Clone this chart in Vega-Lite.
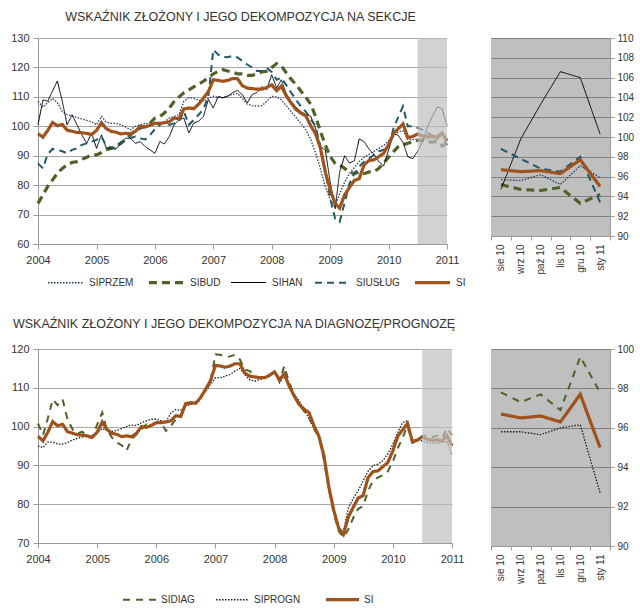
{
  "$schema": "https://vega.github.io/schema/vega-lite/v6.json",
  "padding": {"top": 10, "left": 10, "right": 4, "bottom": 4},
  "background": "white",
  "config": {
    "font": "Liberation Sans",
    "view": {"stroke": null},
    "axis": {"labelFont": "Liberation Sans", "labelFontSize": 11, "labelColor": "#333333", "domainColor": "#9a9a9a", "tickColor": "#9a9a9a", "gridColor": "#a6a6a6", "tickSize": 5, "labelPadding": 3},
    "title": {"font": "Liberation Sans", "fontSize": 12.5, "fontWeight": "normal", "color": "#333333"},
    "legend": {"labelFont": "Liberation Sans", "labelFontSize": 10, "labelColor": "#333333", "gridAlign": "each"}
  },
  "datasets": {
    "main": [
      {"d":"2004-01-01","SIPRZEM":108.5,"SIBUD":73.8,"SIHAN":100.5,"SIUSŁUG":87.4,"SI":97.5,"SIDIAG":100.8,"SIPROGN":95.0},
      {"d":"2004-02-01","SIPRZEM":106.5,"SIBUD":76.7,"SIHAN":109.0,"SIUSŁUG":85.7,"SI":96.3,"SIDIAG":97.8,"SIPROGN":94.6},
      {"d":"2004-03-01","SIPRZEM":108.0,"SIBUD":79.5,"SIHAN":108.5,"SIUSŁUG":90.5,"SI":98.5,"SIDIAG":102.0,"SIPROGN":96.0},
      {"d":"2004-04-01","SIPRZEM":109.5,"SIBUD":81.8,"SIHAN":112.0,"SIUSŁUG":92.3,"SI":101.3,"SIDIAG":107.0,"SIPROGN":96.0},
      {"d":"2004-05-01","SIPRZEM":108.0,"SIBUD":84.0,"SIHAN":115.4,"SIUSŁUG":92.0,"SI":100.2,"SIDIAG":105.5,"SIPROGN":95.5},
      {"d":"2004-06-01","SIPRZEM":105.0,"SIBUD":85.7,"SIHAN":108.5,"SIUSŁUG":91.5,"SI":100.6,"SIDIAG":107.0,"SIPROGN":95.5},
      {"d":"2004-07-01","SIPRZEM":104.0,"SIBUD":86.9,"SIHAN":100.5,"SIUSŁUG":90.8,"SI":98.7,"SIDIAG":101.9,"SIPROGN":95.9},
      {"d":"2004-08-01","SIPRZEM":103.5,"SIBUD":87.7,"SIHAN":103.9,"SIUSŁUG":92.0,"SI":98.3,"SIDIAG":99.3,"SIPROGN":96.5},
      {"d":"2004-09-01","SIPRZEM":103.0,"SIBUD":88.0,"SIHAN":100.5,"SIUSŁUG":92.5,"SI":97.9,"SIDIAG":98.2,"SIPROGN":97.0},
      {"d":"2004-10-01","SIPRZEM":102.5,"SIBUD":88.8,"SIHAN":97.1,"SIUSŁUG":93.7,"SI":97.8,"SIDIAG":98.7,"SIPROGN":97.3},
      {"d":"2004-11-01","SIPRZEM":102.0,"SIBUD":89.5,"SIHAN":94.2,"SIUSŁUG":94.2,"SI":97.6,"SIDIAG":97.2,"SIPROGN":97.5},
      {"d":"2004-12-01","SIPRZEM":101.5,"SIBUD":90.3,"SIHAN":97.7,"SIUSŁUG":94.8,"SI":97.2,"SIDIAG":97.3,"SIPROGN":97.6},
      {"d":"2005-01-01","SIPRZEM":100.5,"SIBUD":90.3,"SIHAN":92.5,"SIUSŁUG":95.4,"SI":98.6,"SIDIAG":100.6,"SIPROGN":98.5},
      {"d":"2005-02-01","SIPRZEM":103.4,"SIBUD":91.1,"SIHAN":97.1,"SIUSŁUG":96.5,"SI":101.2,"SIDIAG":103.6,"SIPROGN":99.5},
      {"d":"2005-03-01","SIPRZEM":101.5,"SIBUD":92.0,"SIHAN":92.8,"SIUSŁUG":93.5,"SI":99.3,"SIDIAG":99.3,"SIPROGN":99.0},
      {"d":"2005-04-01","SIPRZEM":101.0,"SIBUD":92.5,"SIHAN":92.5,"SIUSŁUG":92.8,"SI":98.3,"SIDIAG":97.2,"SIPROGN":98.8},
      {"d":"2005-05-01","SIPRZEM":101.0,"SIBUD":93.1,"SIHAN":92.2,"SIUSŁUG":92.5,"SI":98.0,"SIDIAG":95.9,"SIPROGN":99.0},
      {"d":"2005-06-01","SIPRZEM":100.5,"SIBUD":94.2,"SIHAN":94.2,"SIUSŁUG":94.5,"SI":97.4,"SIDIAG":95.2,"SIPROGN":99.5},
      {"d":"2005-07-01","SIPRZEM":99.8,"SIBUD":95.4,"SIHAN":95.9,"SIUSŁUG":95.5,"SI":97.6,"SIDIAG":93.8,"SIPROGN":100.0},
      {"d":"2005-08-01","SIPRZEM":98.8,"SIBUD":97.1,"SIHAN":96.0,"SIUSŁUG":96.0,"SI":97.4,"SIDIAG":96.8,"SIPROGN":100.4},
      {"d":"2005-09-01","SIPRZEM":100.0,"SIBUD":98.6,"SIHAN":94.2,"SIUSŁUG":96.5,"SI":98.3,"SIDIAG":98.0,"SIPROGN":100.3},
      {"d":"2005-10-01","SIPRZEM":100.5,"SIBUD":99.4,"SIHAN":94.8,"SIUSŁUG":95.9,"SI":100.0,"SIDIAG":99.3,"SIPROGN":101.0},
      {"d":"2005-11-01","SIPRZEM":101.0,"SIBUD":99.9,"SIHAN":93.1,"SIUSŁUG":95.5,"SI":99.8,"SIDIAG":100.6,"SIPROGN":101.5},
      {"d":"2005-12-01","SIPRZEM":100.8,"SIBUD":101.1,"SIHAN":92.0,"SIUSŁUG":97.0,"SI":100.3,"SIDIAG":100.6,"SIPROGN":101.9},
      {"d":"2006-01-01","SIPRZEM":100.5,"SIBUD":102.8,"SIHAN":90.8,"SIUSŁUG":99.0,"SI":101.0,"SIDIAG":101.0,"SIPROGN":101.9},
      {"d":"2006-02-01","SIPRZEM":101.0,"SIBUD":103.3,"SIHAN":94.8,"SIUSŁUG":100.5,"SI":101.0,"SIDIAG":101.0,"SIPROGN":101.5},
      {"d":"2006-03-01","SIPRZEM":101.5,"SIBUD":104.5,"SIHAN":94.0,"SIUSŁUG":101.5,"SI":101.2,"SIDIAG":98.9,"SIPROGN":101.2},
      {"d":"2006-04-01","SIPRZEM":102.8,"SIBUD":106.2,"SIHAN":96.5,"SIUSŁUG":100.5,"SI":101.5,"SIDIAG":100.2,"SIPROGN":103.5},
      {"d":"2006-05-01","SIPRZEM":103.4,"SIBUD":108.4,"SIHAN":100.5,"SIUSŁUG":101.0,"SI":102.8,"SIDIAG":101.9,"SIPROGN":104.4},
      {"d":"2006-06-01","SIPRZEM":104.0,"SIBUD":110.0,"SIHAN":102.2,"SIUSŁUG":101.7,"SI":102.6,"SIDIAG":102.9,"SIPROGN":104.2},
      {"d":"2006-07-01","SIPRZEM":108.5,"SIBUD":111.4,"SIHAN":102.8,"SIUSŁUG":105.0,"SI":105.9,"SIDIAG":105.7,"SIPROGN":105.3},
      {"d":"2006-08-01","SIPRZEM":109.7,"SIBUD":112.4,"SIHAN":97.7,"SIUSŁUG":100.5,"SI":106.2,"SIDIAG":106.0,"SIPROGN":105.7},
      {"d":"2006-09-01","SIPRZEM":109.5,"SIBUD":113.4,"SIHAN":101.1,"SIUSŁUG":102.2,"SI":106.0,"SIDIAG":105.7,"SIPROGN":106.2},
      {"d":"2006-10-01","SIPRZEM":108.8,"SIBUD":114.3,"SIHAN":101.7,"SIUSŁUG":103.9,"SI":107.5,"SIDIAG":107.4,"SIPROGN":107.7},
      {"d":"2006-11-01","SIPRZEM":108.5,"SIBUD":115.3,"SIHAN":103.4,"SIUSŁUG":106.0,"SI":109.6,"SIDIAG":109.6,"SIPROGN":109.1},
      {"d":"2006-12-01","SIPRZEM":109.5,"SIBUD":116.6,"SIHAN":109.1,"SIUSŁUG":110.0,"SI":111.8,"SIDIAG":111.7,"SIPROGN":110.8},
      {"d":"2007-01-01","SIPRZEM":110.2,"SIBUD":117.8,"SIHAN":106.2,"SIUSŁUG":126.0,"SI":115.8,"SIDIAG":118.6,"SIPROGN":112.6},
      {"d":"2007-02-01","SIPRZEM":109.8,"SIBUD":118.7,"SIHAN":110.2,"SIUSŁUG":124.3,"SI":115.6,"SIDIAG":118.5,"SIPROGN":112.6},
      {"d":"2007-03-01","SIPRZEM":109.7,"SIBUD":119.2,"SIHAN":109.7,"SIUSŁUG":123.6,"SI":115.3,"SIDIAG":117.9,"SIPROGN":113.0},
      {"d":"2007-04-01","SIPRZEM":110.3,"SIBUD":118.8,"SIHAN":110.2,"SIUSŁUG":123.5,"SI":115.6,"SIDIAG":118.1,"SIPROGN":113.4},
      {"d":"2007-05-01","SIPRZEM":110.8,"SIBUD":118.4,"SIHAN":111.4,"SIUSŁUG":123.9,"SI":116.2,"SIDIAG":118.5,"SIPROGN":114.3},
      {"d":"2007-06-01","SIPRZEM":111.2,"SIBUD":117.8,"SIHAN":112.2,"SIUSŁUG":123.4,"SI":116.2,"SIDIAG":117.3,"SIPROGN":115.0},
      {"d":"2007-07-01","SIPRZEM":109.5,"SIBUD":117.8,"SIHAN":110.8,"SIUSŁUG":122.2,"SI":113.8,"SIDIAG":114.7,"SIPROGN":113.4},
      {"d":"2007-08-01","SIPRZEM":107.5,"SIBUD":117.3,"SIHAN":107.9,"SIUSŁUG":121.0,"SI":113.0,"SIDIAG":114.3,"SIPROGN":112.1},
      {"d":"2007-09-01","SIPRZEM":107.0,"SIBUD":117.3,"SIHAN":110.8,"SIUSŁUG":120.0,"SI":112.8,"SIDIAG":113.0,"SIPROGN":111.7},
      {"d":"2007-10-01","SIPRZEM":106.8,"SIBUD":117.8,"SIHAN":111.5,"SIUSŁUG":118.8,"SI":112.6,"SIDIAG":112.6,"SIPROGN":112.1},
      {"d":"2007-11-01","SIPRZEM":107.0,"SIBUD":118.5,"SIHAN":113.5,"SIUSŁUG":118.8,"SI":112.6,"SIDIAG":112.7,"SIPROGN":112.6},
      {"d":"2007-12-01","SIPRZEM":108.5,"SIBUD":118.7,"SIHAN":112.5,"SIUSŁUG":119.8,"SI":113.2,"SIDIAG":113.4,"SIPROGN":113.2},
      {"d":"2008-01-01","SIPRZEM":110.2,"SIBUD":120.0,"SIHAN":117.5,"SIUSŁUG":118.5,"SI":114.1,"SIDIAG":114.1,"SIPROGN":114.1},
      {"d":"2008-02-01","SIPRZEM":110.0,"SIBUD":121.3,"SIHAN":113.0,"SIUSŁUG":115.8,"SI":112.1,"SIDIAG":111.7,"SIPROGN":111.3},
      {"d":"2008-03-01","SIPRZEM":109.0,"SIBUD":120.5,"SIHAN":115.8,"SIUSŁUG":116.5,"SI":113.6,"SIDIAG":115.6,"SIPROGN":113.0},
      {"d":"2008-04-01","SIPRZEM":107.0,"SIBUD":118.2,"SIHAN":111.0,"SIUSŁUG":114.0,"SI":110.4,"SIDIAG":111.3,"SIPROGN":110.4},
      {"d":"2008-05-01","SIPRZEM":105.0,"SIBUD":116.0,"SIHAN":108.5,"SIUSŁUG":111.5,"SI":107.9,"SIDIAG":108.3,"SIPROGN":108.3},
      {"d":"2008-06-01","SIPRZEM":103.0,"SIBUD":114.2,"SIHAN":106.5,"SIUSŁUG":109.0,"SI":105.7,"SIDIAG":105.7,"SIPROGN":106.6},
      {"d":"2008-07-01","SIPRZEM":101.0,"SIBUD":112.0,"SIHAN":105.0,"SIUSŁUG":106.8,"SI":104.5,"SIDIAG":104.0,"SIPROGN":104.5},
      {"d":"2008-08-01","SIPRZEM":98.8,"SIBUD":110.0,"SIHAN":104.0,"SIUSŁUG":105.0,"SI":103.6,"SIDIAG":102.7,"SIPROGN":102.0},
      {"d":"2008-09-01","SIPRZEM":95.5,"SIBUD":107.5,"SIHAN":103.4,"SIUSŁUG":102.5,"SI":100.2,"SIDIAG":99.3,"SIPROGN":99.5},
      {"d":"2008-10-01","SIPRZEM":91.0,"SIBUD":103.4,"SIHAN":99.4,"SIUSŁUG":100.0,"SI":97.5,"SIDIAG":97.5,"SIPROGN":97.5},
      {"d":"2008-11-01","SIPRZEM":85.5,"SIBUD":98.2,"SIHAN":93.0,"SIUSŁUG":93.0,"SI":92.5,"SIDIAG":91.5,"SIPROGN":91.5},
      {"d":"2008-12-01","SIPRZEM":79.5,"SIBUD":93.7,"SIHAN":92.0,"SIUSŁUG":85.0,"SI":84.5,"SIDIAG":84.0,"SIPROGN":84.5},
      {"d":"2009-01-01","SIPRZEM":75.0,"SIBUD":89.7,"SIHAN":81.0,"SIUSŁUG":75.5,"SI":78.4,"SIDIAG":77.5,"SIPROGN":78.0},
      {"d":"2009-02-01","SIPRZEM":72.7,"SIBUD":87.4,"SIHAN":72.0,"SIUSŁUG":68.5,"SI":73.7,"SIDIAG":73.0,"SIPROGN":74.0},
      {"d":"2009-03-01","SIPRZEM":77.0,"SIBUD":86.8,"SIHAN":84.5,"SIUSŁUG":67.5,"SI":72.2,"SIDIAG":71.5,"SIPROGN":73.0},
      {"d":"2009-04-01","SIPRZEM":81.0,"SIBUD":85.7,"SIHAN":90.0,"SIUSŁUG":74.0,"SI":76.7,"SIDIAG":73.5,"SIPROGN":79.0},
      {"d":"2009-05-01","SIPRZEM":84.0,"SIBUD":84.5,"SIHAN":87.5,"SIUSŁUG":80.5,"SI":79.2,"SIDIAG":76.5,"SIPROGN":81.5},
      {"d":"2009-06-01","SIPRZEM":86.0,"SIBUD":83.9,"SIHAN":88.3,"SIUSŁUG":84.0,"SI":81.6,"SIDIAG":78.8,"SIPROGN":83.5},
      {"d":"2009-07-01","SIPRZEM":88.0,"SIBUD":84.5,"SIHAN":95.7,"SIUSŁUG":86.3,"SI":82.2,"SIDIAG":79.5,"SIPROGN":86.0},
      {"d":"2009-08-01","SIPRZEM":89.5,"SIBUD":83.9,"SIHAN":94.8,"SIUSŁUG":88.0,"SI":86.9,"SIDIAG":83.5,"SIPROGN":88.5},
      {"d":"2009-09-01","SIPRZEM":90.5,"SIBUD":84.5,"SIHAN":92.2,"SIUSŁUG":89.0,"SI":88.4,"SIDIAG":86.1,"SIPROGN":90.0},
      {"d":"2009-10-01","SIPRZEM":91.5,"SIBUD":84.5,"SIHAN":90.5,"SIUSŁUG":90.3,"SI":88.6,"SIDIAG":86.9,"SIPROGN":90.3},
      {"d":"2009-11-01","SIPRZEM":92.5,"SIBUD":85.7,"SIHAN":88.0,"SIUSŁUG":91.5,"SI":89.7,"SIDIAG":87.5,"SIPROGN":91.3},
      {"d":"2009-12-01","SIPRZEM":93.5,"SIBUD":87.5,"SIHAN":86.5,"SIUSŁUG":92.0,"SI":90.8,"SIDIAG":88.5,"SIPROGN":93.0},
      {"d":"2010-01-01","SIPRZEM":95.0,"SIBUD":89.5,"SIHAN":92.0,"SIUSŁUG":93.0,"SI":93.8,"SIDIAG":91.0,"SIPROGN":95.5},
      {"d":"2010-02-01","SIPRZEM":96.5,"SIBUD":91.4,"SIHAN":97.5,"SIUSŁUG":99.4,"SI":97.6,"SIDIAG":94.5,"SIPROGN":98.5},
      {"d":"2010-03-01","SIPRZEM":98.0,"SIBUD":93.0,"SIHAN":97.0,"SIUSŁUG":103.0,"SI":99.1,"SIDIAG":97.0,"SIPROGN":101.0},
      {"d":"2010-04-01","SIPRZEM":98.5,"SIBUD":93.7,"SIHAN":94.5,"SIUSŁUG":106.8,"SI":100.8,"SIDIAG":100.3,"SIPROGN":101.5},
      {"d":"2010-05-01","SIPRZEM":95.5,"SIBUD":94.2,"SIHAN":89.7,"SIUSŁUG":100.0,"SI":96.2,"SIDIAG":95.8,"SIPROGN":96.5},
      {"d":"2010-06-01","SIPRZEM":95.5,"SIBUD":94.8,"SIHAN":89.0,"SIUSŁUG":100.0,"SI":96.5,"SIDIAG":96.3,"SIPROGN":96.5},
      {"d":"2010-07-01","SIPRZEM":95.6,"SIBUD":95.2,"SIHAN":91.5,"SIUSŁUG":99.5,"SI":97.4,"SIDIAG":97.3,"SIPROGN":96.3},
      {"d":"2010-08-01","lab":"sie 10","SIPRZEM":95.7,"SIBUD":95.2,"SIHAN":94.7,"SIUSŁUG":98.8,"SI":96.7,"SIDIAG":97.8,"SIPROGN":95.8},
      {"d":"2010-09-01","lab":"wrz 10","SIPRZEM":95.6,"SIBUD":94.7,"SIHAN":99.8,"SIUSŁUG":97.8,"SI":96.5,"SIDIAG":97.3,"SIPROGN":95.8},
      {"d":"2010-10-01","lab":"paź 10","SIPRZEM":96.2,"SIBUD":94.6,"SIHAN":103.3,"SIUSŁUG":96.8,"SI":96.6,"SIDIAG":97.7,"SIPROGN":95.65},
      {"d":"2010-11-01","lab":"lis 10","SIPRZEM":95.2,"SIBUD":94.9,"SIHAN":106.6,"SIUSŁUG":96.5,"SI":96.3,"SIDIAG":96.9,"SIPROGN":96.0},
      {"d":"2010-12-01","lab":"gru 10","SIPRZEM":97.1,"SIBUD":93.3,"SIHAN":106.0,"SIUSŁUG":98.0,"SI":97.7,"SIDIAG":99.6,"SIPROGN":96.15},
      {"d":"2011-01-01","lab":"sty 11","SIPRZEM":95.9,"SIBUD":94.2,"SIHAN":100.3,"SIUSŁUG":93.4,"SI":95.0,"SIDIAG":97.8,"SIPROGN":92.7}
    ]
  },
  "spacing": 28,
  "resolve": {
    "scale": {"color": "independent", "strokeDash": "independent", "strokeWidth": "independent"},
    "legend": {"color": "independent", "strokeDash": "independent", "strokeWidth": "independent"}
  },
  "vconcat": [
    {
      "bounds": "flush",
      "spacing": 44,
      "resolve": {
        "scale": {"color": "independent", "strokeDash": "independent", "strokeWidth": "independent"},
        "legend": {"color": "independent", "strokeDash": "independent", "strokeWidth": "independent"}
      },
      "hconcat": [
        {
          "width": 409,
          "height": 206,
          "title": {"text": "WSKAŹNIK ZŁOŻONY I JEGO DEKOMPOZYCJA NA SEKCJE", "offset": 9, "dx": -2},
          "layer": [
            {
              "data": {"name": "main"},
              "transform": [{"fold": ["SIPRZEM", "SIBUD", "SIHAN", "SIUSŁUG", "SI"], "as": ["s", "v"]}],
              "mark": {"type": "line"},
              "encoding": {
                "x": {"field": "d", "type": "temporal", "title": null,
                      "scale": {"type": "utc", "domain": [{"year": 2004, "month": 1, "date": 1, "utc": true}, {"year": 2011, "month": 1, "date": 1, "utc": true}]},
                      "axis": {"values": [{"year": 2004, "month": 1, "date": 1, "utc": true}, {"year": 2005, "month": 1, "date": 1, "utc": true}, {"year": 2006, "month": 1, "date": 1, "utc": true}, {"year": 2007, "month": 1, "date": 1, "utc": true}, {"year": 2008, "month": 1, "date": 1, "utc": true}, {"year": 2009, "month": 1, "date": 1, "utc": true}, {"year": 2010, "month": 1, "date": 1, "utc": true}, {"year": 2011, "month": 1, "date": 1, "utc": true}], "format": "%Y", "grid": false, "labelPadding": 5, "labelFlush": false}},
                "y": {"field": "v", "type": "quantitative", "title": null,
                      "scale": {"domain": [60, 130], "zero": false, "nice": false},
                      "axis": {"values": [60, 70, 80, 90, 100, 110, 120, 130], "grid": true, "labelPadding": 4}},
                "color": {"field": "s", "type": "nominal",
                          "scale": {"domain": ["SIPRZEM", "SIBUD", "SIHAN", "SIUSŁUG", "SI"], "range": ["#1f3a5f", "#4f6228", "#000000", "#215868", "#a0521c"]},
                          "legend": {"orient": "none", "legendX": 8, "legendY": 225, "direction": "horizontal", "columns": 5, "title": null, "symbolType": "stroke", "symbolSize": 1225, "labelOffset": 4, "columnPadding": 8}},
                "strokeDash": {"field": "s", "type": "nominal",
                               "scale": {"domain": ["SIPRZEM", "SIBUD", "SIHAN", "SIUSŁUG", "SI"], "range": [[1.5, 1.5], [8, 5], [1, 0], [7, 5], [1, 0]]},
                               "legend": {"orient": "none", "legendX": 8, "legendY": 225, "direction": "horizontal", "columns": 5, "title": null, "symbolType": "stroke", "symbolSize": 1225, "labelOffset": 4, "columnPadding": 8}},
                "strokeWidth": {"field": "s", "type": "nominal",
                                "scale": {"type": "ordinal", "domain": ["SIPRZEM", "SIBUD", "SIHAN", "SIUSŁUG", "SI"], "range": [1.3, 3.2, 1, 2, 3.2]},
                                "legend": {"orient": "none", "legendX": 8, "legendY": 225, "direction": "horizontal", "columns": 5, "title": null, "symbolType": "stroke", "symbolSize": 1225, "labelOffset": 4, "columnPadding": 8}}
              }
            },
            {
              "data": {"values": [{"s0": "2010-07-01", "e0": "2011-01-01"}]},
              "mark": {"type": "rect", "color": "#bfbfbf", "opacity": 0.7},
              "encoding": {"x": {"field": "s0", "type": "temporal"}, "x2": {"field": "e0"}}
            }
          ]
        },
        {
          "width": 119,
          "height": 198,
          "view": {"fill": "#bfbfbf", "stroke": null},
          "data": {"name": "main"},
          "transform": [{"filter": "datum.lab"}, {"fold": ["SIPRZEM", "SIBUD", "SIHAN", "SIUSŁUG", "SI"], "as": ["s", "v"]}],
          "mark": {"type": "line"},
          "encoding": {
            "x": {"field": "lab", "type": "ordinal", "title": null, "sort": ["sie 10", "wrz 10", "paź 10", "lis 10", "gru 10", "sty 11"],
                  "scale": {"type": "band", "paddingInner": 0, "paddingOuter": 0},
                  "axis": {"labelAngle": -90, "tickBand": "extent", "labelFontSize": 10, "tickSize": 4, "labelPadding": 4}},
            "y": {"field": "v", "type": "quantitative", "title": null,
                  "scale": {"domain": [90, 110], "zero": false, "nice": false},
                  "axis": {"orient": "right", "values": [90, 92, 94, 96, 98, 100, 102, 104, 106, 108, 110], "grid": true, "gridColor": "#7f7f7f", "labelFontSize": 10, "tickSize": 4}},
            "color": {"field": "s", "type": "nominal", "legend": null,
                      "scale": {"domain": ["SIPRZEM", "SIBUD", "SIHAN", "SIUSŁUG", "SI"], "range": ["#1f3a5f", "#4f6228", "#000000", "#215868", "#a0521c"]}},
            "strokeDash": {"field": "s", "type": "nominal", "legend": null,
                           "scale": {"domain": ["SIPRZEM", "SIBUD", "SIHAN", "SIUSŁUG", "SI"], "range": [[1.5, 1.5], [8, 5], [1, 0], [7, 5], [1, 0]]}},
            "strokeWidth": {"field": "s", "type": "nominal", "legend": null,
                            "scale": {"type": "ordinal", "domain": ["SIPRZEM", "SIBUD", "SIHAN", "SIUSŁUG", "SI"], "range": [1.3, 3.2, 1, 2, 3.2]}}
          }
        }
      ]
    },
    {
      "bounds": "flush",
      "spacing": 39,
      "resolve": {
        "scale": {"color": "independent", "strokeDash": "independent", "strokeWidth": "independent"},
        "legend": {"color": "independent", "strokeDash": "independent", "strokeWidth": "independent"}
      },
      "hconcat": [
        {
          "width": 414,
          "height": 194,
          "title": {"text": "WSKAŹNIK ZŁOŻONY I JEGO DEKOMPOZYCJA NA DIAGNOZĘ/PROGNOZĘ", "offset": 13, "dx": -11},
          "layer": [
            {
              "data": {"name": "main"},
              "transform": [{"fold": ["SIDIAG", "SIPROGN", "SI"], "as": ["s", "v"]}],
              "mark": {"type": "line"},
              "encoding": {
                "x": {"field": "d", "type": "temporal", "title": null,
                      "scale": {"type": "utc", "domain": [{"year": 2004, "month": 1, "date": 1, "utc": true}, {"year": 2011, "month": 1, "date": 1, "utc": true}]},
                      "axis": {"values": [{"year": 2004, "month": 1, "date": 1, "utc": true}, {"year": 2005, "month": 1, "date": 1, "utc": true}, {"year": 2006, "month": 1, "date": 1, "utc": true}, {"year": 2007, "month": 1, "date": 1, "utc": true}, {"year": 2008, "month": 1, "date": 1, "utc": true}, {"year": 2009, "month": 1, "date": 1, "utc": true}, {"year": 2010, "month": 1, "date": 1, "utc": true}, {"year": 2011, "month": 1, "date": 1, "utc": true}], "format": "%Y", "grid": false, "labelPadding": 5, "labelFlush": false}},
                "y": {"field": "v", "type": "quantitative", "title": null,
                      "scale": {"domain": [70, 120], "zero": false, "nice": false},
                      "axis": {"values": [70, 80, 90, 100, 110, 120], "grid": true, "labelPadding": 4}},
                "color": {"field": "s", "type": "nominal",
                          "scale": {"domain": ["SIDIAG", "SIPROGN", "SI"], "range": ["#4f6228", "#1a1a1a", "#a0521c"]},
                          "legend": {"orient": "none", "legendX": 83, "legendY": 232, "direction": "horizontal", "columns": 3, "title": null, "symbolType": "stroke", "symbolSize": 1089, "labelOffset": 3, "columnPadding": 18}},
                "strokeDash": {"field": "s", "type": "nominal",
                               "scale": {"domain": ["SIDIAG", "SIPROGN", "SI"], "range": [[7, 6], [1.5, 1.5], [1, 0]]},
                               "legend": {"orient": "none", "legendX": 83, "legendY": 232, "direction": "horizontal", "columns": 3, "title": null, "symbolType": "stroke", "symbolSize": 1089, "labelOffset": 3, "columnPadding": 18}},
                "strokeWidth": {"field": "s", "type": "nominal",
                                "scale": {"type": "ordinal", "domain": ["SIDIAG", "SIPROGN", "SI"], "range": [2, 1.3, 3.2]},
                                "legend": {"orient": "none", "legendX": 83, "legendY": 232, "direction": "horizontal", "columns": 3, "title": null, "symbolType": "stroke", "symbolSize": 1089, "labelOffset": 3, "columnPadding": 18}}
              }
            },
            {
              "data": {"values": [{"s0": "2010-07-01", "e0": "2011-01-01"}]},
              "mark": {"type": "rect", "color": "#bfbfbf", "opacity": 0.7},
              "encoding": {"x": {"field": "s0", "type": "temporal"}, "x2": {"field": "e0"}}
            }
          ]
        },
        {
          "width": 119,
          "height": 197,
          "view": {"fill": "#bfbfbf", "stroke": null},
          "data": {"name": "main"},
          "transform": [{"filter": "datum.lab"}, {"fold": ["SIDIAG", "SIPROGN", "SI"], "as": ["s", "v"]}],
          "mark": {"type": "line"},
          "encoding": {
            "x": {"field": "lab", "type": "ordinal", "title": null, "sort": ["sie 10", "wrz 10", "paź 10", "lis 10", "gru 10", "sty 11"],
                  "scale": {"type": "band", "paddingInner": 0, "paddingOuter": 0},
                  "axis": {"labelAngle": -90, "tickBand": "extent", "labelFontSize": 10, "tickSize": 4, "labelPadding": 4}},
            "y": {"field": "v", "type": "quantitative", "title": null,
                  "scale": {"domain": [90, 100], "zero": false, "nice": false},
                  "axis": {"orient": "right", "values": [90, 92, 94, 96, 98, 100], "grid": true, "gridColor": "#7f7f7f", "labelFontSize": 10, "tickSize": 4}},
            "color": {"field": "s", "type": "nominal", "legend": null,
                      "scale": {"domain": ["SIDIAG", "SIPROGN", "SI"], "range": ["#4f6228", "#1a1a1a", "#a0521c"]}},
            "strokeDash": {"field": "s", "type": "nominal", "legend": null,
                           "scale": {"domain": ["SIDIAG", "SIPROGN", "SI"], "range": [[7, 6], [1.5, 1.5], [1, 0]]}},
            "strokeWidth": {"field": "s", "type": "nominal", "legend": null,
                            "scale": {"type": "ordinal", "domain": ["SIDIAG", "SIPROGN", "SI"], "range": [2, 1.3, 3.2]}}
          }
        }
      ]
    }
  ]
}
